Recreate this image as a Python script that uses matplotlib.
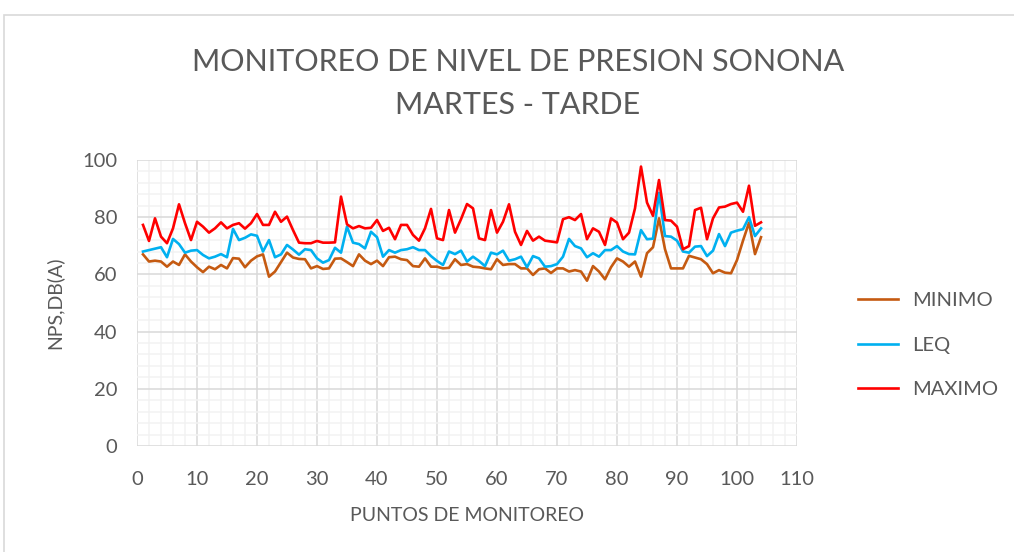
import matplotlib
matplotlib.use("Agg")
import matplotlib.pyplot as plt
from matplotlib.patches import Rectangle
from matplotlib.ticker import MultipleLocator

puntos = list(range(1, 105))

minimo = [67, 64.5, 64.8, 64.5, 62.7, 64.5, 63.3, 67, 64.5, 62.5,
          60.8, 62.7, 61.8, 63.3, 62.1, 65.7, 65.5, 62.5, 64.8, 66.3,
          67, 59.2, 61, 64.3, 67.6, 65.9, 65.4, 65.3, 62.1, 62.9,
          61.9, 62.1, 65.5, 65.6, 64.3, 62.9, 67, 64.8, 63.6, 64.8,
          62.9, 66, 66.2, 65.3, 65, 62.9, 62.7, 65.6, 62.7, 62.7,
          62.1, 62.3, 65.3, 63.3, 63.6, 62.7, 62.5, 62.1, 61.8, 65.3,
          63.3, 63.6, 63.6, 62.1, 62.1, 59.8, 61.8, 62.1, 60.5, 62.1,
          62.1, 61, 61.5, 61, 57.8, 62.9, 61, 58.3, 62.5, 65.6,
          64.5, 62.7, 64.5, 59.2, 67.4, 69.5, 79.6, 68.8, 62.1, 62.1,
          62.1, 66.5, 65.9, 65.3, 63.6, 60.4, 61.5, 60.6, 60.4, 65,
          71.8, 78.1, 67.1, 73]

leq = [68, 68.5, 69, 69.5, 66, 72.4, 70.6, 67.6, 68.3, 68.5,
       66.8, 65.6, 66.2, 67.1, 66, 75.9, 72, 72.8, 74, 73.5,
       68, 72, 66, 67, 70.3, 68.7, 66.9, 68.8, 68.5, 65.6,
       64.1, 65, 69.3, 67.6, 76.7, 71.1, 70.6, 69.1, 74.9, 73,
       66.2, 68.5, 67.6, 68.5, 68.8, 69.5, 68.5, 68.5, 66.4, 64.7,
       63.3, 68, 67.1, 68.3, 64.5, 66.2, 64.7, 62.9, 67.6, 67,
       68.3, 64.8, 65.3, 66.2, 62.5, 66.4, 65.6, 62.7, 62.9, 63.6,
       66.2, 72.4, 69.9, 69.1, 66, 67.4, 66.2, 68.5, 68.5, 69.9,
       68, 67.1, 67, 75.5, 72.3, 72.5, 88.5, 73.4, 73.2, 71.8,
       68, 67.6, 69.7, 69.9, 66.4, 68.3, 74.1, 69.9, 74.6, 75.3,
       75.8, 80, 73.4, 76.1]

maximo = [77.3, 71.7, 79.6, 73.2, 70.9, 76.1, 84.5, 77.9, 72, 78.4,
          76.7, 74.6, 76.1, 78.2, 76.1, 77.3, 77.9, 76, 77.9, 81.1,
          77.3, 77.3, 81.9, 78.4, 80.2, 75.5, 71.1, 70.9, 70.9, 71.7,
          71.1, 71.1, 71.2, 87.2, 77.5, 76.1, 76.9, 76.1, 76.3, 79,
          75.2, 76.3, 72.3, 77.3, 77.3, 73.8, 71.8, 76.1, 82.9, 72.6,
          72, 82.5, 74.6, 79.3, 84.6, 83.1, 72.6, 72, 82.5, 74.6,
          78.4, 84.5, 74.9, 70.3, 75.2, 71.8, 73.2, 71.8, 71.5, 71.2,
          79.3, 80, 79, 81.1, 72.3, 76.1, 74.9, 70.3, 79.6, 78.1,
          72.3, 74.6, 83.1, 97.7, 85.1, 80.5, 93, 79, 78.8, 76.7,
          68.8, 69.9, 82.5, 83.3, 72.3, 79.6, 83.4, 83.7, 84.6, 85.1,
          81.9, 91, 77, 78.2]

series_names = ["MINIMO", "LEQ", "MAXIMO"]
series_colors = ["#C55A11", "#00B0F0", "#FF0000"]

plt.rcParams['font.family'] = ['Lato', 'DejaVu Sans']
text_color = "#595959"

fig = plt.figure(figsize=(10.14, 5.52), dpi=100)
fig.patches.append(Rectangle((4 / 1014, -0.05), 1.2, 1 - 15 / 552 + 0.05,
                             transform=fig.transFigure, fill=False,
                             edgecolor="#D9D9D9", linewidth=1.2))

ax = fig.add_axes([137 / 1014, 1 - 446 / 552, 660 / 1014, 286 / 552])

for vals, name, col in zip([minimo, leq, maximo], series_names, series_colors):
    ax.plot(puntos, vals, color=col, linewidth=1.9, label=name)

ax.set_xlim(0, 110)
ax.set_ylim(0, 100)
ax.xaxis.set_major_locator(MultipleLocator(10))
ax.xaxis.set_minor_locator(MultipleLocator(2))
ax.yaxis.set_major_locator(MultipleLocator(20))
ax.yaxis.set_minor_locator(MultipleLocator(4))
ax.grid(which='minor', color="#F2F2F2", linewidth=1.1)
ax.grid(which='major', color="#D9D9D9", linewidth=1.1)
ax.set_axisbelow(True)
for s in ax.spines.values():
    s.set_visible(False)
ax.tick_params(which='both', length=0, labelsize=14.5, labelcolor=text_color)
ax.tick_params(axis='x', pad=18)
ax.tick_params(axis='y', pad=14)

ax.set_xlabel("PUNTOS DE MONITOREO", fontsize=14, color=text_color, labelpad=14)
ax.set_ylabel("NPS,DB(A)", fontsize=14, color=text_color, labelpad=14)

fig.text(518 / 1014, 1 - 62 / 552, "MONITOREO DE NIVEL DE PRESION SONONA",
         ha='center', va='center', fontsize=22, color=text_color)
fig.text(518 / 1014, 1 - 105 / 552, "MARTES - TARDE",
         ha='center', va='center', fontsize=22, color=text_color)

fig.legend(loc='center left', bbox_to_anchor=(840 / 1014, 1 - 345 / 552),
           frameon=False, fontsize=14.5, labelcolor=text_color,
           handlelength=2.0, labelspacing=1.35, handletextpad=0.7)

fig.savefig("out.png", dpi=100)
